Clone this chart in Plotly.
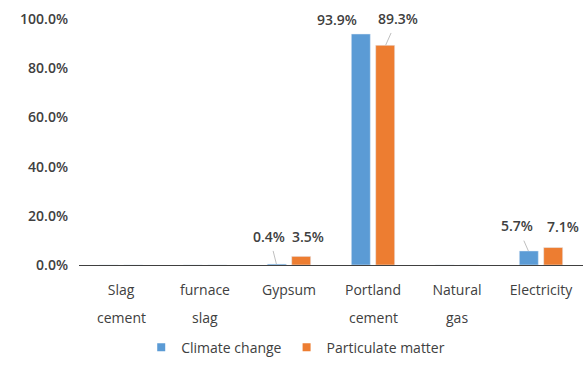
import plotly.graph_objects as go

# Share of each input in the total impact, per impact category (%)
categories = ["Slag cement", "furnace slag", "Gypsum", "Portland cement", "Natural gas", "Electricity"]
label_line1 = ["Slag", "furnace", "Gypsum", "Portland", "Natural", "Electricity"]
label_line2 = ["cement", "slag", "", "cement", "gas", ""]
climate_change = [0.0, 0.0, 0.4, 93.9, 0.0, 5.7]
particulate_matter = [0.0, 0.0, 3.5, 89.3, 0.0, 7.1]
y_ticks = [0, 20, 40, 60, 80, 100]

BLUE = "#5B9BD5"
ORANGE = "#ED7D31"
TEXT = "#404040"
FONT = "Open Sans"

fig = go.Figure()
fig.add_trace(go.Bar(x=categories, y=[v / 100 for v in climate_change],
                     marker_color=BLUE, name="Climate change", showlegend=False))
fig.add_trace(go.Bar(x=categories, y=[v / 100 for v in particulate_matter],
                     marker_color=ORANGE, name="Particulate matter", showlegend=False))

# legend entries with small square keys
for name, color in [("Climate change", BLUE), ("Particulate matter", ORANGE)]:
    fig.add_trace(go.Scatter(x=[None], y=[None], mode="markers", name=name,
                             marker=dict(symbol="square", size=8, color=color)))

# data labels: (series values, bar offset, label placement)
half = 0.15
label_specs = [
    (climate_change, -half, {2: ("arrow", -7, -28), 3: ("shift", -23, 15), 5: ("arrow", -11, -25)}),
    (particulate_matter, half, {2: ("shift", 6, 20), 3: ("arrow", 12, -27), 5: ("shift", 9, 21)}),
]
annotations = []
for values, offset, places in label_specs:
    for i, (kind, dx, dy) in places.items():
        common = dict(x=i + offset, y=values[i] / 100, xref="x", yref="y",
                      text=f"{values[i]:.1f}%",
                      font=dict(family=FONT, size=14, color=TEXT, weight=600))
        if kind == "arrow":
            annotations.append(dict(**common, showarrow=True, ax=dx, ay=dy,
                                    arrowhead=0, arrowwidth=1, arrowcolor="#BFBFBF",
                                    standoff=0, startstandoff=4))
        else:
            annotations.append(dict(**common, showarrow=False, xshift=dx, yshift=dy,
                                    xanchor="center", yanchor="middle"))

# second line of the category labels
for i, txt in enumerate(label_line2):
    if txt:
        annotations.append(dict(x=i, y=0, xref="x", yref="paper", text=txt,
                                showarrow=False, yanchor="middle", yshift=-52,
                                font=dict(family=FONT, size=14, color=TEXT)))

fig.update_layout(
    width=585, height=365,
    margin=dict(l=79, r=2, t=19, b=96),
    paper_bgcolor="white", plot_bgcolor="white",
    barmode="group", bargap=0.42, bargroupgap=0.22,
    font=dict(family=FONT, size=14, color=TEXT),
    annotations=annotations,
    legend=dict(orientation="h", x=0.43, xanchor="center", y=-0.336, yanchor="middle",
                font=dict(family=FONT, size=14, color=TEXT), itemwidth=30),
    xaxis=dict(tickmode="array", tickvals=categories, ticktext=label_line1,
               showline=True, linecolor="#404040", linewidth=1, ticks="",
               showgrid=False, ticklabelstandoff=12, range=[-0.5, 5.5],
               tickfont=dict(family=FONT, size=14, color=TEXT)),
    yaxis=dict(range=[0, 1.0], tickvals=[t / 100 for t in y_ticks], tickformat=".1%",
               showgrid=False, showline=False, zeroline=False, ticks="",
               ticklabelstandoff=10,
               tickfont=dict(family=FONT, size=14, color=TEXT, weight=600)),
)

fig.write_html("out.html")
